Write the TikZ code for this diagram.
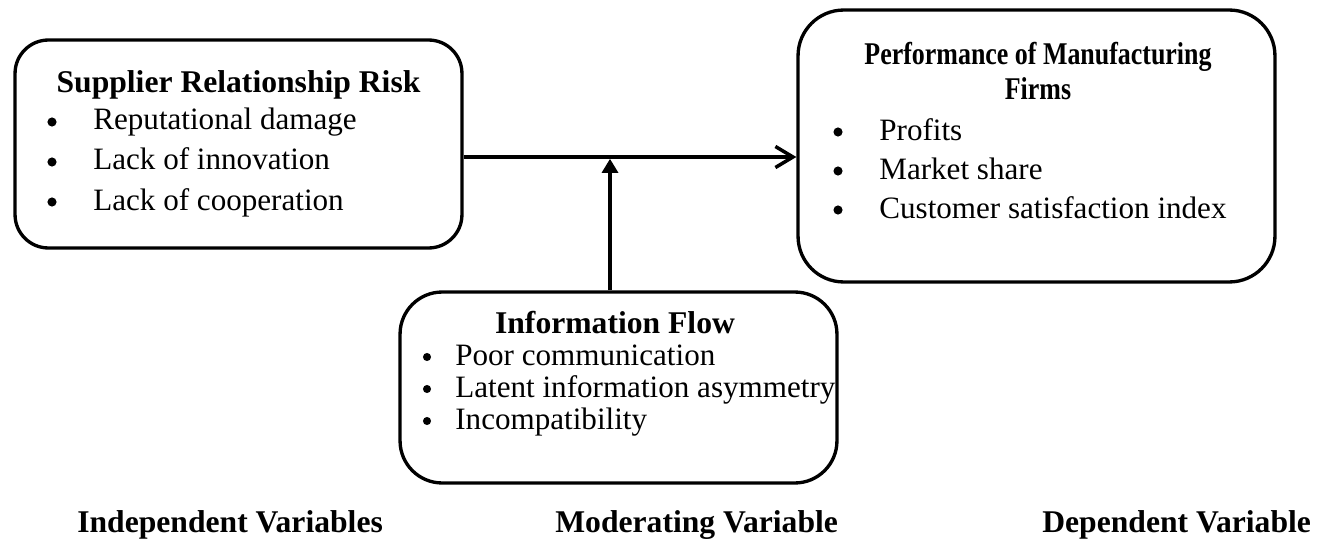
\documentclass[tikz,border=0pt]{standalone}
\usepackage{fontspec}
\setmainfont{Liberation Serif}
\usepackage{graphicx}
\usetikzlibrary{arrows.meta,positioning}

\begin{document}
\begin{tikzpicture}[x=0.02cm,y=-0.02cm,
  varbox/.style={draw,line width=1.9pt,inner sep=0pt},
  head/.style={font=\fontsize{18}{21}\selectfont\bfseries,anchor=base,inner sep=0pt},
  item/.style={font=\fontsize{17.7}{21}\selectfont,anchor=base west,inner sep=0pt},
  dot/.style={circle,fill=black,inner sep=0pt,minimum size=5.2pt},
  tag/.style={font=\fontsize{18}{21}\selectfont\bfseries,anchor=base west,inner sep=0pt},
  link/.style={line width=2pt}]
\useasboundingbox (0,0) rectangle (1325,544);
% the three variable boxes
\node[varbox,rounded corners=19pt,minimum width=8.94cm,minimum height=4.16cm] (srr) at (238.5,144) {};
\node[varbox,rounded corners=26pt,minimum width=9.54cm,minimum height=5.44cm] (perf) at (1036.5,146) {};
\node[varbox,rounded corners=24pt,minimum width=8.74cm,minimum height=3.82cm] (info) at (618.5,387.5) {};
% independent variable
\node[head] (srrhead) at (238.5,92) {Supplier Relationship Risk};
\foreach \txt [count=\i] in {Reputational damage,Lack of innovation,Lack of cooperation}{
  \node[dot] (srrdot\i) at (52,82+\i*40) {};
  \node[item] (srritem\i) at (93,90+\i*40) {\txt};}
% dependent variable
\node[head] (perfhead1) at (1038,65) {\scalebox{0.82}[1]{Performance of Manufacturing}};
\node[head] (perfhead2) at (1038,100) {\scalebox{0.82}[1]{Firms}};
\foreach \txt [count=\i] in {Profits,Market share,Customer satisfaction index}{
  \node[dot] (perfdot\i) at (838,93+\i*39) {};
  \node[item] (perfitem\i) at (879,101+\i*39) {\txt};}
% moderating variable
\node[head] (infohead) at (615,333) {Information Flow};
\foreach \txt [count=\i] in {Poor communication,Latent information asymmetry,Incompatibility}{
  \node[dot,minimum size=4.6pt] (infodot\i) at (427,325+\i*32) {};
  \node[item] (infoitem\i) at (455,333+\i*32) {\txt};}
% connectors
\coordinate (join) at (610,157);
\draw[link,-{Straight Barb[length=10pt,width=12pt]}] (srr.east |- join) -- (perf.west |- join);
\draw[link,-{Triangle[length=8pt,width=9pt]},shorten >=1pt] (info.north -| join) -- (join);
% column captions
\node[tag] (indep) at (77,532) {Independent Variables};
\node[tag] (moder) at (555,532) {Moderating Variable};
\node[tag] (dep) at (1042,532) {Dependent Variable};
\end{tikzpicture}
\end{document}
